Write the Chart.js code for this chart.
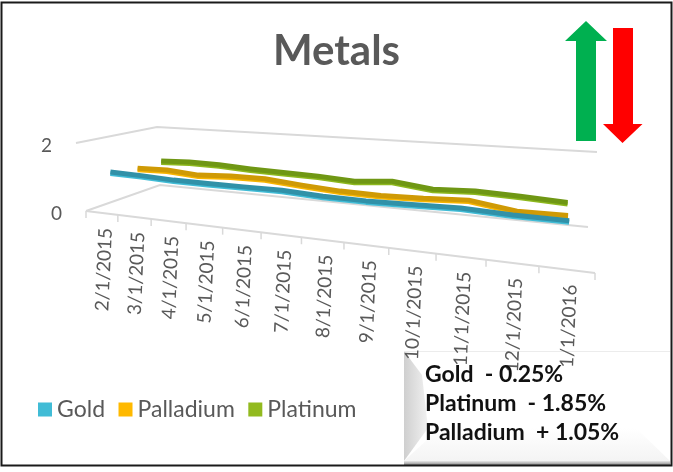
<!DOCTYPE html><html><head><meta charset="utf-8"><style>html,body{margin:0;background:#fff}canvas{display:block}</style>
<script src="https://cdn.jsdelivr.net/npm/chart.js@4"></script></head><body><canvas id="c" width="673" height="472"></canvas><script>
const categories=['2/1/2015','3/1/2015','4/1/2015','5/1/2015','6/1/2015','7/1/2015','8/1/2015','9/1/2015','10/1/2015','11/1/2015','12/1/2015','1/1/2016'];
const gold=[1.05,1.03,0.99,0.99,0.99,1.00,0.94,0.93,0.95,0.98,0.93,0.92];
const palladium=[0.93,0.96,0.89,0.95,0.96,0.87,0.80,0.78,0.81,0.87,0.70,0.71];
const platinum=[0.95,0.99,0.98,0.93,0.90,0.88,0.82,0.91,0.78,0.83,0.79,0.73];
const calloutLines=['Gold  - 0.25%','Platinum  - 1.85%','Palladium  + 1.05%'];

function H(p00,p10,p11,p01){const dx1=p10[0]-p11[0],dx2=p01[0]-p11[0],sx=p00[0]-p10[0]+p11[0]-p01[0],dy1=p10[1]-p11[1],dy2=p01[1]-p11[1],sy=p00[1]-p10[1]+p11[1]-p01[1];const den=dx1*dy2-dx2*dy1,g=(sx*dy2-dx2*sy)/den,h=(dx1*sy-sx*dy1)/den,a=p10[0]-p00[0]+g*p10[0],b=p01[0]-p00[0]+h*p01[0],d=p10[1]-p00[1]+g*p10[1],e=p01[1]-p00[1]+h*p01[1];return(u,v)=>{const q=g*u+h*v+1;return[(a*u+b*v+p00[0])/q,(d*u+e*v+p00[1])/q]}}
const floor=H([86,211],[595,273],[588,227],[160,185]),ceil=H([76,143],[607,185],[597,152],[157,127]);
function project(u,v,w){const f=floor(u,v),t=ceil(u,v);return[f[0]+w*(t[0]-f[0]),f[1]+w*(t[1]-f[1])]}
const INK='#595959',GRID='#d9d9d9';
const edges=['#41BCD6','#F7B500','#8DB81E'];

function poly(ctx,pts){ctx.beginPath();pts.forEach((p,i)=>i?ctx.lineTo(p[0],p[1]):ctx.moveTo(p[0],p[1]));}
function drawCallout(ctx){
 const L=404,Tp=351,R=670,B=464;
 let g=ctx.createLinearGradient(L,0,L+30,0);g.addColorStop(0,'#cfcfcf');g.addColorStop(1,'#fafafa');
 ctx.fillStyle='#fff';ctx.fillRect(L,Tp,R-L,B-Tp);
 ctx.fillStyle=g;poly(ctx,[[L,Tp],[L+18,Tp+24],[L+24,B-36],[L,B-3]]);ctx.fill();
 g=ctx.createLinearGradient(0,B-36,0,B);g.addColorStop(0,'#ffffff');g.addColorStop(1,'#f3f3f3');
 ctx.fillStyle=g;poly(ctx,[[L,B-3],[L+36,B-36],[R-34,B-36],[R,B-3]]);ctx.fill();
 ctx.strokeStyle='#ececec';ctx.lineWidth=1;poly(ctx,[[L,Tp+.5],[R,Tp+.5]]);ctx.stroke();
 g=ctx.createLinearGradient(0,B-3,0,B+1);g.addColorStop(0,'#e8e8e8');g.addColorStop(1,'#8a8a8a');
 ctx.fillStyle=g;ctx.fillRect(L,B-3,R-L,4);
}
const scene={id:'scene',
 afterDatasetsUpdate(chart){
  const x=chart.scales.x,y=chart.scales.y,n=chart.data.datasets.length;
  chart.data.datasets.forEach((d,k)=>{const v=(2*k+1)/(2*n);
   chart.getDatasetMeta(k).data.forEach((pt,i)=>{
    const p=project((x.getPixelForValue(i)-x.left)/x.width,v,(y.bottom-y.getPixelForValue(d.data[i]))/y.height);
    pt.x=p[0];pt.y=p[1]-0.7;});});
 },
 beforeDatasetsDraw(chart){
  const ctx=chart.ctx,x=chart.scales.x,y=chart.scales.y,n=x.ticks.length;
  ctx.save();
  ctx.strokeStyle=GRID;ctx.lineWidth=2;ctx.lineJoin='miter';
  y.ticks.forEach(t=>{const w=(y.bottom-y.getPixelForValue(t.value))/y.height;
   poly(ctx,[project(0,0,w),project(0,1,w),project(1,1,w)]);ctx.stroke();
  });
  poly(ctx,[project(0,0,0),project(1,0,0)]);ctx.stroke();
  ctx.lineWidth=1.5;
  for(let i=0;i<=n;i++){const u=i/n,p=project(u,0,0);poly(ctx,[p,[p[0],p[1]+7]]);ctx.stroke();}
  drawCallout(ctx);
  ctx.fillStyle=INK;ctx.font='19px Lato';ctx.textBaseline='middle';
  y.ticks.forEach(t=>{const w=(y.bottom-y.getPixelForValue(t.value))/y.height,p=project(0,0,w);ctx.textAlign='center';ctx.fillText(String(t.value),p[0]-29.5,p[1]+3);});
  x.ticks.forEach((t,i)=>{const u=(x.getPixelForValue(i)-x.left)/x.width,p=project(u,0,0);
   ctx.save();ctx.translate(p[0]+4,p[1]+15);ctx.rotate(-87.5*Math.PI/180);ctx.textAlign='right';ctx.fillText(x.getLabelForValue(t.value),0,0);ctx.restore();});
  ctx.restore();
 },
 beforeDatasetDraw(chart,args){
  const ctx=chart.ctx,meta=args.meta;
  ctx.save();ctx.translate(0,1.5);ctx.strokeStyle=edges[args.index];ctx.lineWidth=5;ctx.lineJoin='round';ctx.lineCap='butt';
  ctx.beginPath();meta.dataset.path(ctx);ctx.stroke();ctx.restore();
 },
 afterDraw(chart){
  const ctx=chart.ctx;ctx.save();
  ctx.fillStyle='#00B050';poly(ctx,[[586,21],[607,41],[596,41],[596,141],[576,141],[576,41],[565,41]]);ctx.closePath();ctx.fill();
  ctx.fillStyle='#FF0000';poly(ctx,[[613,28],[633,28],[633,124],[642.5,124],[622.5,143],[603,124],[613,124]]);ctx.closePath();ctx.fill();
  ctx.fillStyle='#111';ctx.font='bold 23px Lato';ctx.textAlign='left';ctx.textBaseline='alphabetic';
  calloutLines.forEach((s,i)=>ctx.fillText(s,425,382+i*29));
  ctx.strokeStyle='#1a1a1a';ctx.lineWidth=2;ctx.strokeRect(1.5,2.5,670,463);
  ctx.restore();
 }};
new Chart(document.getElementById('c'),{type:'line',
 data:{labels:categories,datasets:[
  {label:'Gold',data:gold,borderColor:'#3191A8',backgroundColor:'#41BCD6'},
  {label:'Palladium',data:palladium,borderColor:'#CF9A05',backgroundColor:'#FFB900'},
  {label:'Platinum',data:platinum,borderColor:'#6F9714',backgroundColor:'#92BA1F'}]},
 options:{responsive:false,animation:false,devicePixelRatio:1,
  layout:{padding:{left:24.5,right:24.5,bottom:41}},
  datasets:{line:{borderWidth:5,pointRadius:0,tension:0,clip:false,borderJoinStyle:'round'}},
  scales:{x:{display:false,offset:true,ticks:{autoSkip:false}},y:{display:false,min:0,max:2,ticks:{stepSize:2}}},
  plugins:{tooltip:{enabled:false},
   title:{display:true,text:'Metals',color:INK,font:{family:'Lato',size:42,weight:'bold'},padding:{top:26,bottom:10}},
   legend:{position:'bottom',align:'start',labels:{font:{family:'Lato',size:23},color:INK,padding:20,usePointStyle:true,boxWidth:1,boxHeight:14,
    generateLabels(chart){return Chart.defaults.plugins.legend.labels.generateLabels(chart).map(l=>Object.assign(l,{pointStyle:'rect',rotation:0,lineWidth:0,strokeStyle:'rgba(0,0,0,0)'}))}}}}},
 plugins:[scene]});
</script></body></html>
